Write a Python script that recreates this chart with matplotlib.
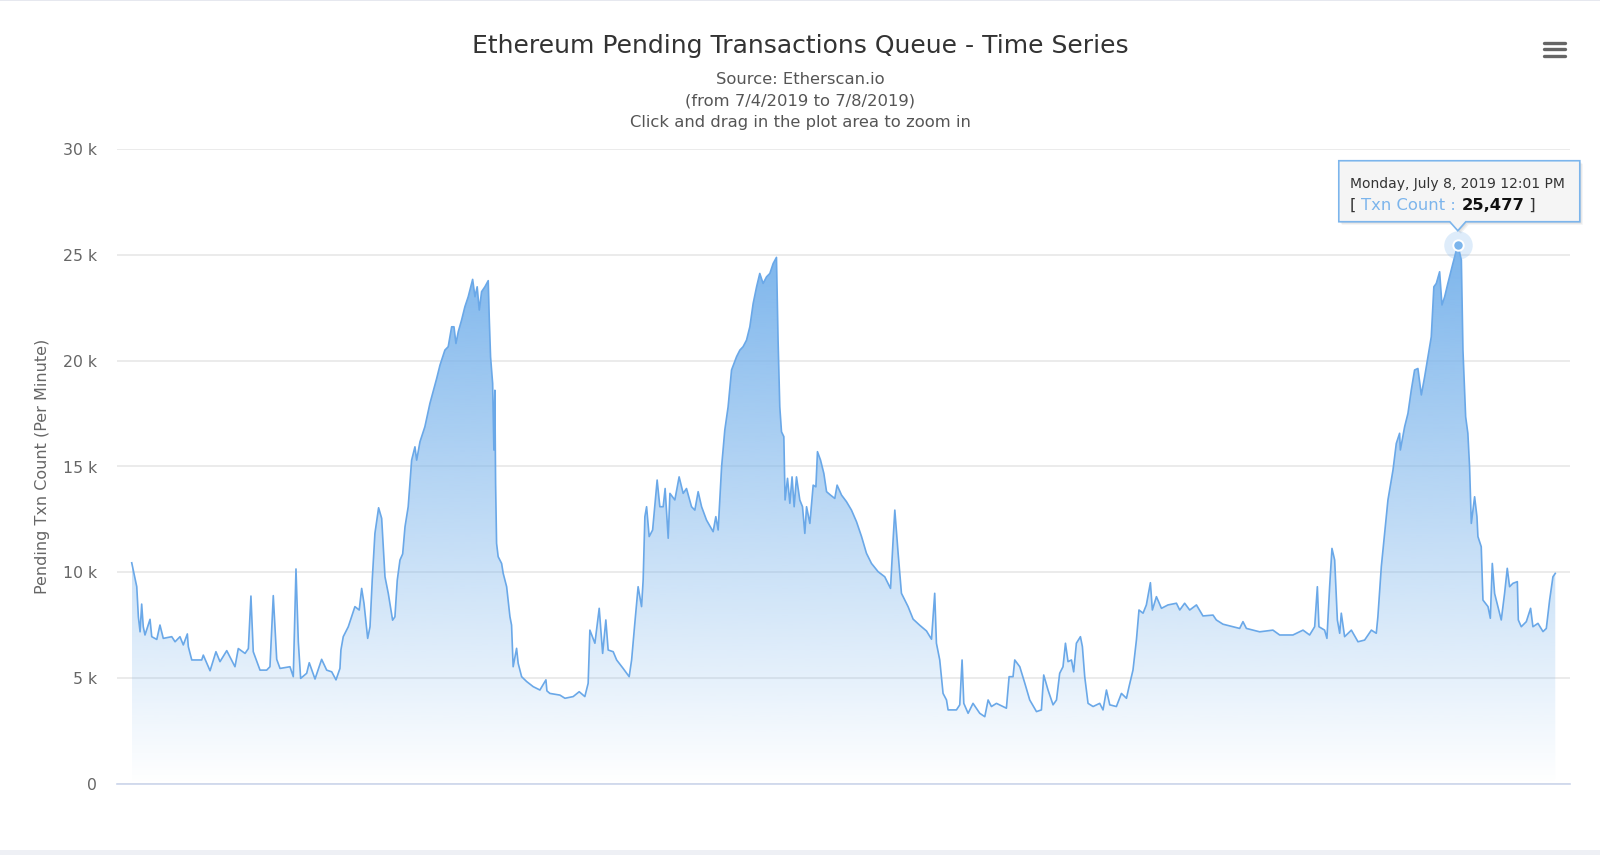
import datetime as dt

import matplotlib

matplotlib.use("Agg")

import matplotlib.pyplot as plt
import numpy as np
from matplotlib.colors import to_rgb
from matplotlib.patches import Polygon, Rectangle
from matplotlib.ticker import FuncFormatter

# hours since 2019-07-04 00:00 and pending txn count
START = dt.datetime(2019, 7, 4)
hours = [
    0.0, 0.41, 0.54, 0.68, 0.81, 0.94, 1.08, 1.49, 1.63, 2.04,
    2.30, 2.57, 3.26, 3.53, 3.93, 4.20, 4.53, 4.61, 4.89, 5.70,
    5.83, 6.38, 6.86, 7.19, 7.74, 8.41, 8.68, 9.23, 9.50, 9.71,
    9.90, 10.45, 10.99, 11.26, 11.53, 11.81, 12.08, 12.89, 13.16, 13.38,
    13.57, 13.76, 14.25, 14.46, 14.93, 15.47, 15.88, 16.29, 16.64, 16.96,
    17.04, 17.23, 17.64, 18.18, 18.53, 18.73, 18.92, 19.22, 19.41, 19.59,
    19.81, 20.11, 20.36, 20.63, 20.90, 21.25, 21.44, 21.63, 21.85, 22.07,
    22.26, 22.52, 22.66, 22.80, 23.07, 23.21, 23.48, 23.88, 24.29, 24.70,
    24.84, 25.11, 25.51, 25.78, 26.06, 26.25, 26.41, 26.60, 26.87, 27.14,
    27.41, 27.77, 27.96, 28.14, 28.31, 28.50, 28.77, 29.04, 29.12, 29.23,
    29.40, 29.50, 29.58, 29.64, 29.72, 29.85, 30.13, 30.26, 30.54, 30.81,
    30.94, 31.07, 31.35, 31.48, 31.76, 32.17, 32.70, 33.25, 33.74, 33.82,
    34.06, 34.88, 35.29, 35.96, 36.45, 36.91, 37.18, 37.32, 37.73, 38.08,
    38.36, 38.62, 38.81, 39.22, 39.50, 40.03, 40.52, 40.72, 40.98, 41.25,
    41.53, 41.66, 41.80, 41.94, 42.15, 42.43, 42.80, 43.02, 43.29, 43.45,
    43.70, 43.84, 44.24, 44.59, 44.92, 45.19, 45.60, 45.87, 46.14, 46.42,
    46.82, 47.36, 47.58, 47.77, 48.05, 48.31, 48.58, 48.86, 49.27, 49.54,
    49.80, 50.08, 50.35, 50.62, 50.90, 51.16, 51.43, 51.71, 51.98, 52.25,
    52.52, 52.65, 52.79, 52.93, 53.12, 53.22, 53.42, 53.61, 53.79, 53.96,
    54.15, 54.42, 54.64, 54.83, 54.97, 55.24, 55.51, 55.73, 55.86, 56.11,
    56.38, 56.60, 56.92, 57.27, 57.46, 57.82, 58.22, 58.63, 59.04, 59.45,
    59.85, 60.26, 60.80, 61.34, 61.81, 62.02, 62.16, 62.43, 62.70, 63.24,
    63.65, 64.19, 64.74, 65.15, 65.41, 65.55, 65.82, 66.09, 66.37, 66.50,
    67.18, 67.45, 67.64, 67.78, 68.13, 68.53, 69.08, 69.49, 69.76, 70.03,
    70.44, 71.25, 71.47, 71.79, 71.93, 72.34, 72.75, 73.15, 73.70, 74.10,
    74.29, 74.64, 75.05, 75.33, 75.59, 75.86, 76.06, 76.27, 76.55, 76.73,
    76.95, 77.28, 77.44, 77.63, 77.90, 78.31, 78.85, 79.12, 79.40, 79.67,
    80.21, 80.62, 81.03, 81.24, 81.56, 81.84, 82.05, 82.38, 82.65, 82.98,
    83.14, 83.47, 83.88, 84.41, 85.10, 85.37, 85.77, 86.18, 86.73, 87.26,
    88.08, 88.35, 88.89, 89.71, 90.25, 90.52, 90.80, 91.88, 92.96, 93.51,
    94.59, 95.41, 95.95, 96.36, 96.58, 96.71, 97.17, 97.36, 97.58, 97.77,
    97.99, 98.21, 98.40, 98.53, 98.80, 99.35, 99.89, 100.43, 100.98, 101.38,
    101.51, 101.79, 102.06, 102.33, 102.74, 103.01, 103.28, 103.34, 103.69, 103.96,
    104.23, 104.50, 104.77, 105.05, 105.32, 105.59, 105.86, 106.07, 106.27, 106.54,
    106.73, 106.95, 107.21, 107.62, 108.02, 108.31, 108.44, 108.66, 108.84, 108.98,
    109.12, 109.39, 109.58, 109.66, 109.93, 110.07, 110.48, 110.67, 110.83, 111.02,
    111.29, 111.56, 111.83, 112.05, 112.24, 112.51, 112.87, 112.95, 113.19, 113.60,
    113.95, 114.14, 114.55, 114.96, 115.23, 115.50, 115.77, 115.96,
]
pending = [
    10450, 9320, 7900, 7190, 8500, 7430, 7040, 7780, 6960, 6830,
    7510, 6880, 6960, 6720, 6960, 6570, 7090, 6490, 5860, 5860,
    6090, 5350, 6250, 5780, 6300, 5540, 6400, 6170, 6400, 8880,
    6250, 5380, 5380, 5540, 8900, 5890, 5460, 5540, 5070, 10160,
    6720, 4990, 5230, 5730, 4960, 5890, 5380, 5300, 4920, 5460,
    6330, 6960, 7430, 8380, 8220, 9240, 8540, 6880, 7430, 9630,
    11840, 13050, 12550, 9790, 9000, 7740, 7900, 9630, 10580, 10870,
    12150, 13100, 14200, 15300, 15930, 15300, 16170, 16880, 17980, 18850,
    19160, 19790, 20500, 20660, 21600, 21600, 20810, 21370, 21920, 22550,
    23020, 23840, 23020, 23490, 22390, 23260, 23490, 23780, 22080, 20180,
    18920, 15780, 18600, 14200, 11370, 10740, 10420, 9950, 9320, 7900,
    7510, 5540, 6410, 5700, 5070, 4840, 4600, 4440, 4920, 4400,
    4280, 4200, 4050, 4130, 4360, 4130, 4760, 7270, 6650, 8300,
    6170, 7750, 6330, 6250, 5860, 5460, 5070, 5860, 7590, 9320,
    8380, 9640, 12630, 13100, 11690, 12000, 14360, 13100, 13100, 13960,
    11610, 13730, 13420, 14510, 13730, 13960, 13100, 12940, 13810, 13100,
    12470, 11920, 12630, 12000, 14990, 16720, 17820, 19560, 20190, 20500,
    20660, 20970, 21600, 22700, 23490, 24120, 23650, 23960, 24120, 24590,
    24880, 20970, 17820, 16640, 16410, 13420, 14440, 13260, 14510, 13100,
    14510, 13420, 13100, 11840, 13100, 12310, 14120, 14040, 15700, 15300,
    14670, 13810, 13650, 13490, 14120, 13650, 13340, 12940, 12390, 11690,
    10900, 10420, 10030, 9790, 9240, 11530, 12940, 10900, 9010, 8380,
    7790, 7500, 7230, 6840, 9010, 6650, 5860, 4280, 3970, 3500,
    3500, 3740, 5860, 3810, 3340, 3810, 3340, 3180, 3970, 3660,
    3810, 3580, 5070, 5070, 5860, 5540, 4760, 3970, 3420, 3500,
    5150, 4440, 3740, 3970, 5230, 5540, 6650, 5780, 5860, 5300,
    6650, 6960, 6490, 5070, 3810, 3660, 3810, 3500, 4440, 3740,
    3660, 4280, 4050, 4600, 5380, 6800, 8220, 8070, 8460, 9510,
    8220, 8850, 8300, 8460, 8540, 8220, 8540, 8220, 8460, 7940,
    7980, 7750, 7550, 7430, 7350, 7670, 7350, 7190, 7270, 7040,
    7040, 7270, 7040, 7430, 9320, 7430, 7270, 6880, 9320, 11130,
    10580, 7750, 7120, 8070, 6960, 7270, 6720, 6800, 7270, 7120,
    7900, 10270, 11840, 13420, 14830, 16090, 16570, 15780, 16880, 17510,
    18610, 19560, 19630, 18380, 19240, 20190, 21130, 23490, 23650, 24200,
    22630, 23020, 23650, 24590, 25477, 24750, 20500, 17350, 16570, 14990,
    12310, 13570, 12630, 11690, 11210, 8690, 8380, 7830, 10420, 9000,
    8380, 7750, 9000, 10190, 9320, 9480, 9560, 7750, 7430, 7670,
    8300, 7430, 7590, 7200, 7350, 8690, 9790, 9950,
]

TITLE = "Ethereum Pending Transactions Queue - Time Series"
SUBTITLES = [
    "Source: Etherscan.io",
    "(from 7/4/2019 to 7/8/2019)",
    "Click and drag in the plot area to zoom in",
]
Y_LABEL = "Pending Txn Count (Per Minute)"
SERIES_NAME = "Txn Count"

LINE = "#6aa8e8"
FILL = "#7cb5ec"
W, H = 1600, 855

fig = plt.figure(figsize=(W / 100, H / 100), dpi=100)
ax = fig.add_axes([117 / W, 1 - 784 / H, (1570 - 117) / W, (784 - 149) / H])

t = np.array(hours)
v = np.array(pending)

# gradient area fill, clipped to the series outline
poly = ax.fill_between(t, v, 0, facecolor="none", edgecolor="none")
grad = np.zeros((256, 1, 4))
grad[..., :3] = to_rgb(FILL)
grad[:, 0, 3] = np.linspace(1.0, 0.0, 256)
im = ax.imshow(grad, extent=(t[0], t[-1], 0, v.max()), aspect="auto",
               origin="upper", interpolation="bilinear", zorder=1)
im.set_clip_path(poly.get_paths()[0], transform=ax.transData)
ax.plot(t, v, color=LINE, lw=1.2, zorder=3)
ax.set_xlim(t[0] - 1.2, t[-1] + 1.2)
ax.set_ylim(0, 30000)

ax.set_yticks(range(0, 30001, 5000))
ax.yaxis.set_major_formatter(FuncFormatter(lambda y, _: "0" if y == 0 else f"{int(y / 1000)} k"))
ax.set_xticks([])
ax.tick_params(axis="y", length=0, pad=14.4, labelsize=11.3, labelcolor="#666666")
ax.grid(axis="y", color="#e6e6e6", lw=1.1)
ax.set_axisbelow(True)
for side in ("left", "top", "right"):
    ax.spines[side].set_visible(False)
ax.spines["bottom"].set_color("#ccd6eb")
ax.spines["bottom"].set_linewidth(1.2)
ax.spines["bottom"].set_zorder(4)

# hovered point
ip = int(np.argmax(v))
ax.plot(t[ip], v[ip], "o", ms=20.5, color=FILL, alpha=0.25, mew=0, zorder=5)
ax.plot(t[ip], v[ip], "o", ms=7.5, mfc=FILL, mec="white", mew=1.4, zorder=6)

# overlay in pixel coords (y down)
ov = fig.add_axes([0, 0, 1, 1], zorder=10)
ov.set_xlim(0, W)
ov.set_ylim(H, 0)
ov.set_axis_off()

ov.add_patch(Rectangle((0, 0), W, 1.5, color="#e6e8ef", lw=0))
ov.add_patch(Rectangle((0, 850), W, 5, color="#eef0f5", lw=0))

ov.text(800, 53, TITLE, ha="center", va="baseline", fontsize=18, color="#333333")
for i, line in enumerate(SUBTITLES):
    ov.text(800, 84 + i * 21.5, line, ha="center", va="baseline", fontsize=11.8, color="#555555")
ov.text(43, 466.5, Y_LABEL, rotation=90, ha="center", va="center", fontsize=11.5, color="#666666")

for yy in (43, 49.5, 56):
    ov.plot([1544, 1565], [yy, yy], color="#666666", lw=2.4, solid_capstyle="round")

# tooltip
px, py = ax.transData.transform((t[ip], v[ip]))
py = H - py
x0, x1 = px - 119, px + 122
y0, y1 = py - 84, py - 23
verts = [(x0, y0), (x1, y0), (x1, y1), (px + 8, y1), (px, py - 14), (px - 8, y1), (x0, y1)]
for off in (3, 2, 1):
    ov.add_patch(Polygon([(a + off, b + off) for a, b in verts], closed=True,
                         fc="black", ec="none", alpha=0.05))
ov.add_patch(Polygon(verts, closed=True, fc=(0.97, 0.97, 0.97, 0.95), ec=FILL, lw=1.2))

when = START + dt.timedelta(hours=float(t[ip]))
stamp = f"{when:%A}, {when:%B} {when.day}, {when.year} {when.hour % 12 or 12}:{when:%M} {when:%p}"
ov.text(x0 + 11, y0 + 27.5, stamp, va="baseline", fontsize=10, color="#333333")

renderer = fig.canvas.get_renderer()
cx = x0 + 11
pieces = [
    ("[ ", "#333333", "normal"),
    (f"{SERIES_NAME} : ", FILL, "normal"),
    (f"{int(v[ip]):,}", "#111111", "bold"),
    (" ]", "#333333", "normal"),
]
for txt, col, wt in pieces:
    tx = ov.text(cx, y0 + 49, txt, va="baseline", fontsize=11.8, color=col, fontweight=wt)
    cx = tx.get_window_extent(renderer).x1

fig.savefig("out.png", dpi=100, facecolor="white")
